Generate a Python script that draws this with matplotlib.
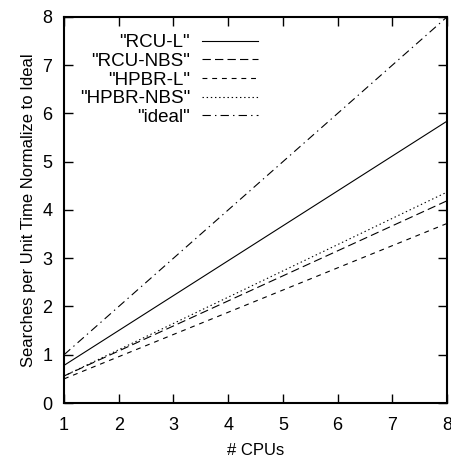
import numpy as np
import matplotlib.pyplot as plt

plt.rcParams['font.family'] = ['Liberation Sans', 'DejaVu Sans']
plt.rcParams['lines.scale_dashes'] = False

# data (straight lines from 1 to 8 CPUs)
cpus = [1, 8]
rcu_l = [0.78, 5.84]
rcu_nbs = [0.56, 4.19]
hpbr_l = [0.50, 3.72]
hpbr_nbs = [0.56, 4.37]
ideal = [1, 8]

fig = plt.figure(figsize=(4.51, 4.59), dpi=100)
ax = fig.add_axes([0.142, 0.122, 0.849, 0.841])

lw = 0.8
ax.plot(cpus, rcu_l, color='k', lw=lw, label='"RCU-L"')
ax.plot(cpus, rcu_nbs, color='k', lw=lw, dashes=(6, 3), label='"RCU-NBS"')
ax.plot(cpus, hpbr_l, color='k', lw=lw, dashes=(3.5, 3.5), label='"HPBR-L"')
ax.plot(cpus, hpbr_nbs, color='k', lw=lw, dashes=(1, 2), label='"HPBR-NBS"')
ax.plot(cpus, ideal, color='k', lw=lw, dashes=(6, 3, 1, 3), label='"ideal"')

ax.set_xlim(1, 8)
ax.set_ylim(0, 8)
ax.set_xticks(range(1, 9))
ax.set_yticks(range(0, 9))
ax.tick_params(direction='in', length=6.5, width=1, labelsize=13,
               top=True, right=True)
ax.tick_params(axis='x', pad=10)
ax.tick_params(axis='y', pad=8.5)
for s in ax.spines.values():
    s.set_linewidth(1.5)

ax.set_xlabel('# CPUs', fontsize=12, labelpad=6.5)
ax.set_ylabel('Searches per Unit Time Normalize to Ideal', fontsize=12, labelpad=4.5)

leg = ax.legend(loc='upper right', frameon=False, markerfirst=False,
                fontsize=13.5, handlelength=3.0, labelspacing=0.08,
                handletextpad=0.64, borderpad=0, borderaxespad=0,
                bbox_to_anchor=(0.507, 0.9555))
for t in leg.get_texts():
    t.set_ha('right')
leg._legend_box.align = 'right'

fig.savefig('out.png', dpi=100)
